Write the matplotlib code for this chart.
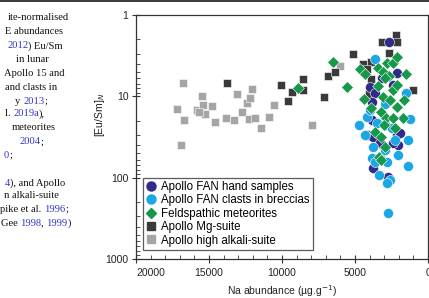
import matplotlib
matplotlib.use("Agg")
import matplotlib.pyplot as plt
from matplotlib.lines import Line2D
from matplotlib.ticker import FixedLocator, MultipleLocator, NullFormatter, FixedFormatter, LogLocator

# ---------------- data ----------------
series_labels = ["Apollo FAN hand samples", "Apollo FAN clasts in breccias",
                 "Feldspathic meteorites", "Apollo Mg-suite", "Apollo high alkali-suite"]

gray_na = [16800, 15460, 17210, 16710, 15820, 15390, 14800, 15270, 14570, 13840, 13270, 13060,
           12760, 12420, 12190, 12080, 12280, 11850, 11440, 10890, 10570, 16940, 7970, 6010, 15680]
gray_eusm = [6.9, 9.8, 14.3, 19.7, 14.7, 12.8, 13.0, 16.6, 20.7, 18.6, 19.5, 9.4,
             15.5, 12.2, 10.6, 8.2, 19.0, 18.6, 24.7, 17.8, 12.9, 39.7, 22.5, 4.2, 15.5]

mg_na = [13790, 10070, 9340, 9570, 8540, 8580, 7100, 6870, 6370, 5140, 4430, 3925, 4160,
         3925, 3170, 2190, 2145, 2670, 1030, 3750, 4020]
mg_eusm = [6.8, 7.3, 8.9, 11.4, 6.1, 8.4, 10.1, 5.6, 5.0, 3.0, 4.0, 3.75, 4.6,
           6.1, 2.17, 1.78, 2.17, 2.96, 8.4, 8.0, 9.4]

fan_na = [2650, 2145, 3170, 2380, 3970, 3630, 3840, 4090, 3750, 2145, 2035, 2380, 3290,
          3750, 2720, 1920, 2950, 3840, 3290]
fan_eusm = [2.17, 5.2, 6.0, 7.3, 7.6, 9.2, 11.7, 29.9, 31.4, 29.9, 39.7, 37.8, 55.2,
            76.7, 97.3, 28.5, 22.5, 19.5, 37.5]

clast_na = [3600, 1510, 1230, 4730, 4210, 3970, 4320, 3510, 2260, 1350, 3750, 2950, 2035,
            3860, 1350, 3340, 2600, 2830, 2720, 3630, 2830, 2950, 2470]
clast_eusm = [3.45, 9.1, 19.0, 22.5, 18.2, 14.7, 29.9, 21.5, 34.4, 34.4, 41.6, 45.7, 52.6,
              57.8, 71.9, 92.7, 106.8, 117.3, 270, 63.6, 63.6, 12.4, 24.5]

met_na = [6490, 8880, 5570, 4660, 4320, 3405, 3060, 2830, 2420, 2145, 1530, 2650, 3405,
          2420, 3060, 4360, 3925, 2600, 1620, 3240, 2145, 1730, 2880, 2380, 2990, 2260,
          3630, 3240, 2950, 3340, 3240, 2145, 2950]
met_eusm = [3.75, 7.8, 7.6, 4.6, 5.3, 4.5, 5.0, 3.9, 3.86, 3.26, 5.3, 5.6, 7.5,
            8.4, 10.3, 10.9, 13.8, 11.1, 11.1, 15.5, 13.4, 18.6, 18.6, 18.6, 22.5, 24.7,
            27.2, 31.4, 41.6, 55.2, 60.0, 7.3, 6.0]

x_ticks = [20000, 15000, 10000, 5000, 0]
x_tick_labels = ["20000", "15000", "10000", "5000", "0"]
y_ticks = [1, 10, 100, 1000]
y_tick_labels = ["1", "10", "100", "1000"]

# caption fragment (cropped text at left of the figure)
caption = [
    [("ite-normalised", "k")],
    [("E abundances", "k")],
    [("2012", "b"), (") Eu/Sm", "k")],
    [("in lunar", "k")],
    [("Apollo 15 and", "k")],
    [("and clasts in", "k")],
    [("y ", "k"), ("2013", "b"), (";", "k")],
    [("l. ", "k"), ("2019a", "b"), ("),", "k")],
    [("meteorites", "k")],
    [("2004", "b"), (";", "k")],
    [("0", "b"), (";", "k")],
    [("4", "b"), ("), and Apollo", "k")],
    [("n alkali-suite", "k")],
    [("pike et al. ", "k"), ("1996", "b"), (";", "k")],
    [("Gee ", "k"), ("1998", "b"), (", ", "k"), ("1999", "b"), (")", "k")],
]
caption_right = [69, 63, 63, 49, 65, 57, 47, 45, 56, 43, 12, 65, 59, 68, 71]
caption_y = [17, 32, 46, 60, 73, 87, 101, 114, 128, 142, 155, 183, 196, 209, 223]

# ---------------- figure ----------------
W, H = 429, 298
fig = plt.figure(figsize=(W / 100, H / 100), dpi=100)
ax = fig.add_axes([136 / W, 1 - 259 / H, (428 - 136) / W, (259 - 15) / H])

c_fan = "#302a88"
c_clast = "#1ca6e3"
c_met = "#16984a"
c_mg = "#3a3a3a"
c_ha = "#a5a5a5"

ax.scatter(gray_na, gray_eusm, marker="s", s=40, color=c_ha, edgecolors="white", linewidths=0.4, zorder=2)
ax.scatter(mg_na, mg_eusm, marker="s", s=40, color=c_mg, edgecolors="white", linewidths=0.4, zorder=3)
ax.scatter(fan_na, fan_eusm, marker="o", s=52, color=c_fan, edgecolors="white", linewidths=0.4, zorder=4)
ax.scatter(clast_na, clast_eusm, marker="o", s=52, color=c_clast, edgecolors="white", linewidths=0.4, zorder=5)
ax.scatter(met_na, met_eusm, marker="D", s=36, color=c_met, edgecolors="white", linewidths=0.4, zorder=6)

ax.set_yscale("log")
ax.set_ylim(1000, 1)
ax.set_xlim(20000, 0)

ax.xaxis.set_major_locator(FixedLocator(x_ticks))
ax.xaxis.set_major_formatter(FixedFormatter(x_tick_labels))
ax.xaxis.set_minor_locator(MultipleLocator(1000))
ax.yaxis.set_major_locator(FixedLocator(y_ticks))
ax.yaxis.set_major_formatter(FixedFormatter(y_tick_labels))
ax.yaxis.set_minor_locator(LogLocator(base=10, subs=range(2, 10)))
ax.yaxis.set_minor_formatter(NullFormatter())

ax.tick_params(which="major", direction="inout", length=6, width=0.8, colors="#333333", pad=2.5)
ax.tick_params(which="minor", direction="in", length=3, width=0.6, colors="#333333")
ax.tick_params(axis="x", which="major", pad=3.5)
for lab in ax.get_xticklabels() + ax.get_yticklabels():
    lab.set_fontfamily("Liberation Sans")
    lab.set_fontsize(7.5)
    lab.set_color("#222222")
ax.get_xticklabels()[0].set_horizontalalignment("left")

for sp in ax.spines.values():
    sp.set_color("#333333")
    sp.set_linewidth(0.9)

ax.set_xlabel("Na abundance (µg.g$^{-1}$)", fontfamily="Liberation Sans", fontsize=7.5, color="#222222", labelpad=4)
ax.set_ylabel("[Eu/Sm]$_N$", fontfamily="Liberation Sans", fontsize=7.5, color="#222222")
ax.yaxis.set_label_coords(-0.10, 0.59)

handles = [
    Line2D([], [], marker="o", ls="", color=c_fan, markersize=6.5),
    Line2D([], [], marker="o", ls="", color=c_clast, markersize=6.5),
    Line2D([], [], marker="D", ls="", color=c_met, markersize=5),
    Line2D([], [], marker="s", ls="", color=c_mg, markersize=6),
    Line2D([], [], marker="s", ls="", color=c_ha, markersize=6),
]
leg = ax.legend(handles, series_labels, loc="lower left", bbox_to_anchor=(0.024, 0.037),
                borderaxespad=0, frameon=True, fancybox=False, handlelength=0.8,
                handletextpad=0.5, borderpad=0.3, labelspacing=0.12,
                prop=dict(family="Liberation Sans", size=8.3))
leg.get_frame().set_edgecolor("#333333")
leg.get_frame().set_linewidth(0.9)
leg.set_zorder(10)

# top page rule
fig.add_artist(Line2D([0, 1], [1 - 0.8 / H, 1 - 0.8 / H], transform=fig.transFigure, color="#2a2a2a", lw=1.3))

# caption fragment
renderer = fig.canvas.get_renderer()
blue = "#3535c8"
for segs, xr, yc in zip(caption, caption_right, caption_y):
    objs = []
    for txt, col in segs:
        t = fig.text(0, 1 - yc / H, txt, color=(blue if col == "b" else "#111111"),
                     fontfamily="Liberation Serif", fontsize=7.6, va="center", ha="left")
        objs.append(t)
    widths = [o.get_window_extent(renderer).width for o in objs]
    total = sum(widths)
    x = max(xr - total, 0)
    for o, w in zip(objs, widths):
        o.set_x(x / W)
        x += w

fig.savefig("out.png", dpi=100)
